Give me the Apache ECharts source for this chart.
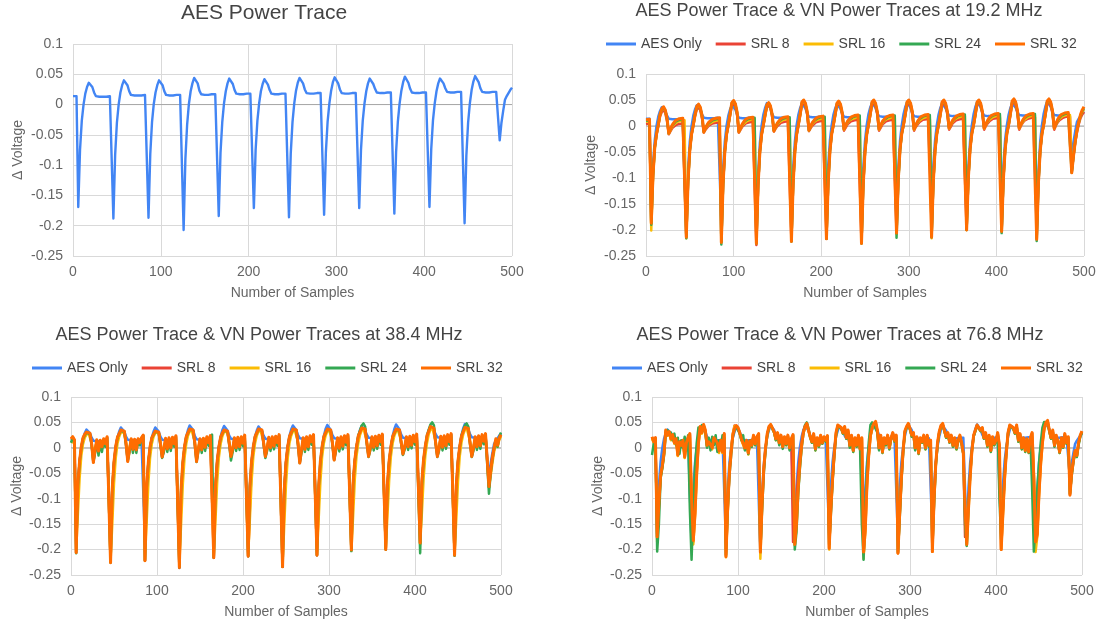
<!DOCTYPE html>
<html><head><meta charset="utf-8">
<script src="https://cdn.jsdelivr.net/npm/echarts@6/dist/echarts.min.js"></script>
<style>html,body{margin:0;padding:0;background:#fff}#c{width:1104px;height:626px}</style>
</head><body><div id="c"></div>
<script>
// Values are in mV, one value every SAMPLE_STEP samples (samples 0,2,4,...,500)
const SAMPLE_STEP = 2;
const seriesNames = ['AES Only', 'SRL 8', 'SRL 16', 'SRL 24', 'SRL 32'];
const seriesColors = ['#4285F4', '#EA4335', '#FBBC04', '#34A853', '#FF6D01'];

const aesOnly = [14,11,14,
-169,-75,-27,0,18,29,36,34,29,20,14,12,13,11,13,12,13,12,14,14,
-188,-83,-30,0,20,32,40,37,32,22,16,14,15,13,15,14,15,14,16,16,
-187,-82,-29,1,20,32,40,38,32,22,16,14,15,14,15,14,16,15,16,17,
-207,-90,-33,1,22,35,44,41,35,23,17,15,16,15,16,15,17,16,17,17,
-184,-80,-29,2,22,35,43,40,34,24,18,16,17,16,17,16,18,17,18,18,
-171,-75,-27,2,22,34,42,39,33,24,18,16,17,16,17,17,18,17,18,18,
-186,-81,-29,2,23,36,44,41,35,25,19,17,18,17,18,17,19,18,19,19,
-182,-79,-28,2,23,37,45,42,35,25,19,17,18,17,18,18,19,18,19,19,
-171,-75,-27,2,22,35,43,41,34,26,20,18,19,18,19,18,20,19,20,20,
-180,-78,-28,2,23,37,46,43,36,26,20,18,19,18,19,19,20,19,20,21,
-169,-74,-26,2,22,35,43,41,35,27,21,19,20,19,20,19,21,20,21,21,
-196,-85,-30,2,24,38,47,44,37,27,21,19,20,19,20,20,21,20,21,20,
-59,-30,-10,8,14,19,24,28];

// ---- 19.2 MHz ----
const srl8_19 = [4,5,5,
-187,-94,-41,-17,0,18,27,31,25,9,-16,-10,-4,-1,2,4,4,5,5,6,
-213,-107,-47,-17,0,19,32,36,30,14,-13,-7,-3,1,3,5,5,6,6,7,
-222,-111,-49,-17,1,20,39,43,37,21,-13,-7,-1,2,5,7,7,8,8,9,
-229,-115,-50,-17,1,19,36,40,34,18,-11,-5,0,3,6,8,8,9,9,10,
-220,-110,-48,-17,1,20,40,44,38,22,-10,-4,1,4,7,9,9,10,10,11,
-216,-108,-48,-16,1,20,39,43,37,21,-9,-3,3,6,9,11,11,12,12,13,
-225,-113,-50,-17,1,20,40,44,38,22,-9,-3,3,6,9,11,11,12,12,13,
-205,-103,-45,-15,1,20,40,44,38,22,-9,-2,3,7,10,12,12,13,13,14,
-213,-107,-47,-16,1,20,40,44,38,22,-7,-1,5,8,11,13,13,14,14,15,
-199,-100,-44,-15,1,20,41,45,39,23,-7,0,5,9,12,14,14,15,15,16,
-201,-101,-44,-15,1,21,42,46,40,24,-7,0,6,10,13,14,15,16,16,17,
-216,-108,-48,-16,1,21,42,46,40,24,-7,1,7,11,14,16,17,18,18,18,
-88,-58,-32,-12,3,15,22,27];
const srl16_19 = [8,8,9,
-201,-100,-44,-16,1,21,31,35,29,13,-15,-8,-1,3,6,8,9,10,10,11,
-216,-108,-48,-16,1,21,36,40,34,18,-12,-5,0,4,7,8,9,10,10,11,
-223,-112,-49,-16,2,22,43,47,41,25,-12,-5,1,5,8,10,11,12,12,13,
-226,-113,-50,-16,2,21,39,43,37,21,-10,-3,3,7,10,11,12,13,13,14,
-222,-111,-49,-16,2,22,44,48,42,26,-9,-2,4,8,11,12,13,14,14,15,
-217,-109,-48,-15,2,22,42,46,40,24,-7,0,6,10,13,14,15,16,16,17,
-226,-113,-50,-16,2,22,44,48,42,26,-7,0,6,10,13,14,15,16,16,17,
-207,-104,-46,-15,2,22,44,48,42,26,-7,0,6,10,13,15,16,17,17,18,
-216,-108,-48,-15,2,22,44,48,42,26,-5,2,8,12,15,16,17,18,18,19,
-200,-100,-44,-14,2,22,44,48,42,26,-5,2,8,12,15,17,18,19,19,20,
-203,-102,-45,-14,2,23,46,50,44,28,-5,2,8,12,15,17,18,19,19,20,
-206,-103,-45,-15,2,23,46,50,44,28,-5,3,9,14,17,19,20,21,21,21,
-88,-57,-30,-9,6,19,27,32];
const srl24_19 = [10,10,11,
-190,-95,-42,-16,2,22,32,36,30,14,-14,-6,1,5,9,11,12,13,13,14,
-216,-108,-48,-16,2,22,37,41,35,19,-11,-4,2,6,9,11,12,13,13,14,
-228,-114,-50,-16,2,23,44,48,42,26,-11,-3,3,8,11,13,14,15,15,16,
-226,-113,-50,-16,2,22,40,44,38,22,-9,-2,5,9,12,14,15,16,16,17,
-222,-111,-49,-16,3,23,45,49,43,27,-8,0,6,10,13,15,16,17,17,18,
-217,-109,-48,-15,3,23,43,47,41,25,-6,2,8,12,15,17,18,19,19,20,
-226,-113,-50,-16,3,23,45,49,43,27,-6,2,8,12,15,17,18,19,19,20,
-215,-108,-47,-15,3,23,45,49,43,27,-6,2,8,13,16,18,19,20,20,21,
-214,-107,-47,-15,3,23,45,49,43,27,-4,4,10,14,17,19,20,21,21,22,
-200,-100,-44,-14,3,23,45,49,43,27,-4,4,10,15,18,20,21,22,22,23,
-206,-103,-45,-14,3,24,47,51,45,29,-4,4,10,15,18,20,21,22,22,23,
-221,-111,-49,-15,3,24,47,51,45,29,-4,4,11,16,20,22,23,24,24,24,
-90,-58,-30,-8,7,20,29,34];
const srl32_19 = [12,12,13,
-187,-94,-41,-16,2,22,33,37,31,15,-14,-5,2,7,11,13,14,15,15,16,
-214,-107,-47,-16,2,22,38,42,36,20,-11,-3,3,8,11,13,14,15,15,16,
-224,-112,-49,-16,2,23,45,49,43,27,-11,-3,4,9,13,15,16,17,17,18,
-226,-113,-50,-16,2,22,41,45,39,23,-9,-1,6,10,14,16,17,18,18,19,
-222,-111,-49,-16,3,23,46,50,44,28,-8,0,7,11,15,17,18,19,19,20,
-217,-109,-48,-15,3,23,44,48,42,26,-6,2,9,13,17,19,20,21,21,22,
-226,-113,-50,-16,3,23,46,50,44,28,-6,2,9,13,17,19,20,21,21,22,
-206,-103,-45,-14,3,23,46,50,44,28,-6,2,9,14,18,20,21,22,22,23,
-214,-107,-47,-15,3,23,46,50,44,28,-4,4,11,15,19,21,22,23,23,24,
-200,-100,-44,-14,3,23,46,50,44,28,-4,4,11,16,20,22,23,24,24,25,
-203,-102,-45,-14,3,24,48,52,46,30,-4,4,11,16,20,22,23,24,24,25,
-218,-109,-48,-15,3,24,48,52,46,30,-4,5,13,18,22,24,25,26,26,25,
-90,-58,-30,-8,8,22,31,37];

// ---- 38.4 MHz ----
const srl8_38 = [16,20,15,
-206,-74,-26,2,19,26,30,33,28,7,-28,-5,15,-7,14,1,17,7,21,19,
-224,-80,-28,2,20,27,34,37,32,7,-26,-4,17,-4,16,-5,17,9,19,24,
-222,-79,-27,2,19,26,32,35,30,7,-18,-3,18,-3,19,-1,20,7,23,25,
-236,-90,-32,1,21,29,36,39,34,8,-26,-4,17,-5,18,0,21,9,23,26,
-216,-77,-27,2,20,28,34,37,32,8,-17,-3,19,-1,20,1,21,8,24,26,
-213,-120,-40,0,21,29,36,39,34,8,-17,-2,20,-1,21,2,22,9,25,27,
-234,-83,-29,2,21,29,36,39,34,7,-29,-5,19,-4,21,1,23,11,25,27,
-211,-110,-35,2,21,29,36,39,34,8,-23,-3,19,-2,21,2,23,10,25,27,
-201,-71,-25,2,22,30,38,41,36,9,-16,-1,21,0,22,3,24,11,26,28,
-200,-71,-25,2,21,29,36,39,34,9,-12,1,21,1,22,4,24,11,26,28,
-188,-66,-23,3,23,32,41,44,38,9,-16,-1,22,0,23,3,25,11,27,29,
-211,-75,-26,2,22,31,39,42,37,9,-16,-1,21,1,23,3,25,12,27,29,
-78,-42,-16,1,14,4,19,25];
const srl16_38 = [12,15,10,
-200,-130,-60,-15,8,20,26,30,27,10,-15,0,12,-2,12,2,15,8,18,18,
-222,-150,-70,-20,8,22,30,33,30,12,-15,0,14,0,14,0,15,8,18,22,
-220,-145,-68,-18,8,22,29,32,30,12,-10,0,15,0,16,2,18,6,20,22,
-230,-150,-72,-20,8,24,32,36,33,12,-15,-2,14,-1,16,3,19,8,20,23,
-214,-142,-66,-18,8,23,31,34,31,12,-10,0,16,2,18,4,19,7,21,23,
-212,-140,-65,-17,9,24,32,36,33,12,-10,1,17,2,18,5,20,8,22,24,
-232,-150,-72,-20,9,24,32,36,33,11,-16,-2,16,0,18,4,20,9,22,24,
-210,-140,-66,-17,9,24,32,36,33,12,-14,0,16,1,18,5,20,8,22,24,
-202,-135,-62,-16,9,25,34,38,35,13,-10,2,18,3,19,6,21,9,23,25,
-200,-132,-62,-16,9,24,32,36,33,13,-8,3,18,4,19,7,21,9,23,25,
-190,-128,-60,-15,10,27,36,40,37,13,-10,2,19,3,20,6,22,9,24,26,
-211,-140,-66,-17,10,26,35,39,36,13,-10,2,18,4,20,6,22,10,24,26,
-78,-55,-30,-8,10,2,16,22];
const srl24_38 = [10,20,12,
-207,-75,-28,0,18,25,30,33,27,5,-28,-10,12,-15,10,-8,15,2,20,22,
-226,-82,-30,0,20,27,34,37,31,5,-25,-8,15,-10,14,-10,15,5,18,24,
-222,-80,-28,0,19,26,32,35,30,5,-20,-8,15,-8,16,-6,18,2,22,25,
-235,-85,-30,0,21,29,36,39,34,6,-28,-8,15,-10,15,-6,18,4,22,26,
-216,-78,-28,0,20,28,34,37,32,6,-25,-8,16,-6,17,-4,19,3,23,26,
-213,-77,-27,0,21,29,36,39,34,6,-20,-6,17,-6,18,-3,20,4,24,27,
-234,-85,-30,0,21,29,36,39,34,5,-30,-9,16,-8,18,-4,20,6,24,27,
-211,-77,-27,0,21,29,36,39,34,6,-24,-7,16,-7,18,-3,20,5,24,27,
-203,-74,-26,0,24,34,44,48,42,8,-18,-5,18,-5,19,-2,22,6,25,28,
-200,-73,-26,0,21,29,36,39,34,7,-14,-3,18,-4,19,-1,22,6,25,28,
-207,-75,-26,1,25,36,46,50,44,8,-18,-5,19,-5,20,-2,23,6,26,29,
-212,-77,-27,0,24,34,44,48,42,8,-18,-5,18,-4,20,-2,23,7,26,29,
-90,-50,-22,-2,15,2,22,30];
const srl32_38 = [18,22,16,
-206,-72,-25,3,20,27,31,34,29,8,-29,-4,16,-6,15,2,18,8,22,20,
-226,-79,-27,3,21,28,35,38,33,8,-27,-3,18,-3,17,-4,18,10,20,25,
-222,-78,-26,3,20,27,33,36,31,8,-18,-2,19,-2,20,0,21,8,24,26,
-235,-82,-28,3,22,30,37,40,35,9,-27,-3,18,-4,19,1,22,10,24,27,
-216,-76,-26,3,21,29,35,38,33,9,-17,-2,20,0,21,2,22,9,25,27,
-213,-75,-25,3,22,30,37,40,35,9,-17,-1,21,0,22,3,23,10,26,28,
-234,-82,-28,3,22,30,37,40,35,8,-30,-4,20,-3,22,2,24,12,26,28,
-211,-74,-25,3,22,30,37,40,35,9,-24,-2,20,-1,22,3,24,11,26,28,
-201,-70,-24,3,23,31,39,42,37,10,-17,0,22,1,23,4,25,12,27,29,
-200,-70,-24,3,22,30,37,40,35,10,-12,2,22,2,23,5,25,12,27,29,
-187,-65,-22,4,24,33,42,45,39,10,-17,0,23,1,24,4,26,12,28,30,
-211,-74,-25,3,23,32,40,43,38,10,-17,0,22,2,24,4,26,13,28,30,
-76,-45,-20,0,18,5,20,26];

// ---- 76.8 MHz ----
const srl8_76 = [20,15,20,
-178,-112,-56,-36,-10,34,25,31,17,25,9,17,-14,11,4,14,-17,10,20,27,
-105,-185,-128,-48,8,41,29,45,34,4,11,14,-1,19,14,9,-7,14,-8,27,
-212,-128,-48,-2,28,44,42,39,29,17,19,-1,14,-11,13,4,24,7,21,27,
-205,-110,-42,-1,27,41,45,43,31,17,29,9,24,1,21,7,24,-1,15,-185,
-150,-100,-50,-15,10,32,44,48,34,21,11,27,-3,19,4,24,9,21,14,23,
-198,-122,-60,-11,29,44,47,39,29,41,19,34,4,24,-6,19,4,24,-3,19,
-210,-160,-72,-16,24,39,47,51,34,-1,24,-9,19,7,24,-1,19,29,14,24,
-207,-132,-62,-6,32,41,47,37,24,29,-1,21,-11,19,11,24,-1,24,4,14,
-204,-102,-32,9,31,43,47,34,21,29,11,24,4,19,-1,14,24,9,-11,-175,
-130,-110,-52,-6,24,34,44,47,34,39,19,29,4,24,-6,21,7,14,29,4,
-200,-128,-58,-9,29,44,47,39,29,44,14,27,-1,19,-6,17,-9,19,29,-55,
-185,-168,-88,-28,12,37,49,53,34,19,34,4,24,11,-9,19,1,27,9,21,
-92,-50,-25,-6,-15,9,24,32];
const srl16_76 = [18,10,18,
-185,-115,-58,-38,-12,32,24,30,15,24,8,15,-16,10,2,12,-20,8,18,25,
-100,-190,-135,-55,5,40,28,44,32,2,10,12,-3,18,12,8,-10,12,-10,25,
-215,-132,-45,-3,27,43,40,38,28,15,18,-3,12,-13,12,2,22,5,20,25,
-218,-115,-45,-3,25,40,44,42,30,15,27,7,22,0,20,5,22,-3,15,24,
-192,-155,-85,-35,2,28,40,46,33,20,10,25,-5,18,2,22,8,20,12,22,
-200,-125,-62,-12,27,43,46,38,28,40,18,32,2,22,-8,18,2,22,-5,18,
-218,-165,-75,-18,22,38,46,50,32,-3,22,-10,18,5,22,-3,18,28,12,22,
-207,-135,-65,-8,30,40,46,36,22,28,-3,20,-12,18,10,22,-3,22,2,12,
-204,-105,-35,8,30,42,46,33,20,28,10,22,2,18,-3,12,22,8,-12,-110,
-192,-125,-58,-8,22,33,43,46,33,38,18,28,2,22,-8,20,5,12,28,2,
-200,-135,-65,-12,27,43,46,38,28,43,12,25,-3,18,-8,15,-10,18,28,-50,
-205,-175,-95,-35,8,35,48,52,33,18,32,3,22,10,-10,18,0,25,8,20,
-90,-52,-27,-8,-17,8,23,31];
const srl24_76 = [-14,8,18,
-204,-150,-60,-40,-15,30,35,25,30,15,28,5,20,-12,15,0,22,-5,25,-120,
-220,-120,-40,10,40,30,45,42,30,0,20,-5,22,5,25,-8,15,0,25,20,
-210,-120,-55,-15,22,36,42,40,28,15,25,-5,12,-12,15,2,22,5,20,25,
-203,-120,-50,-5,25,40,45,42,30,15,28,5,22,-2,20,5,22,-5,15,25,
-200,-165,-90,-40,0,28,45,50,38,20,10,25,-5,18,2,22,8,20,12,20,
-190,-130,-65,-15,25,42,45,38,28,40,18,30,0,22,-8,18,2,22,-5,-150,
-220,-110,-40,10,45,50,45,48,30,-5,22,-10,18,5,22,-3,18,28,12,20,
-205,-140,-65,-10,30,40,46,36,22,28,-5,20,-12,18,10,22,-3,22,2,12,
-195,-110,-35,5,30,42,46,33,20,28,10,22,2,18,-3,12,22,8,-12,-150,
-193,-115,-50,-5,22,33,44,46,33,38,18,28,2,22,-8,20,5,12,28,-100,
-180,-120,-55,-8,28,43,46,38,28,42,12,25,-3,18,-8,15,-10,18,-80,-204,
-150,-80,-30,10,40,51,48,50,32,18,32,2,22,10,-10,18,0,25,8,20,
-90,-55,-28,-8,-18,5,22,30];
const srl32_76 = [22,12,20,
-175,-110,-55,-35,-10,35,25,32,18,26,10,18,-14,12,5,15,-18,10,20,28,
-100,-182,-130,-50,10,42,30,46,35,5,12,15,0,20,15,10,-6,15,-8,28,
-214,-115,-50,-10,25,38,44,40,30,18,20,0,15,-10,14,5,25,8,22,28,
-205,-110,-40,0,28,42,46,44,32,18,30,10,25,2,22,8,25,0,18,26,
-190,-150,-80,-30,5,30,42,48,35,22,12,28,-2,20,5,25,10,22,15,24,
-198,-120,-60,-10,30,45,48,40,30,42,20,35,5,25,-5,20,5,25,-2,20,
-205,-160,-70,-15,25,40,48,52,35,0,25,-8,20,8,25,0,20,30,15,25,
-207,-130,-60,-5,33,42,48,38,25,30,0,22,-10,20,12,25,0,25,5,15,
-204,-100,-30,10,32,44,48,35,22,30,12,25,5,20,0,15,25,10,-10,-120,
-190,-120,-55,-5,25,35,45,48,35,40,20,30,5,25,-5,22,8,15,30,5,
-200,-130,-60,-10,30,45,48,40,30,45,15,28,0,20,-5,18,-8,20,30,-60,
-185,-170,-90,-30,10,38,50,54,35,20,35,5,25,12,-8,20,2,28,10,22,
-93,-50,-25,-5,-15,10,25,33];

const xAxisTicks = {min: 0, max: 500, interval: 100};
const yAxisTicks = {min: -0.25, max: 0.1, interval: 0.05};

const FONT = "'Liberation Sans', Arial, Helvetica, sans-serif";
const panels = [
  {title: 'AES Power Trace', tSize: 21, tx: 264, ty: 3,
   grid: {left: 73, top: 44, width: 439, height: 212}, nameGapY: 48,
   legend: null, sets: [aesOnly], width: 2.4},
  {title: 'AES Power Trace & VN Power Traces at 19.2 MHz', tSize: 18, tx: 839, ty: 2,
   grid: {left: 646, top: 74, width: 438, height: 182}, nameGapY: 48,
   legend: {left: 606, top: 37}, sets: [aesOnly, srl8_19, srl16_19, srl24_19, srl32_19], width: 2.5},
  {title: 'AES Power Trace & VN Power Traces at 38.4 MHz', tSize: 18, tx: 259, ty: 326,
   grid: {left: 71, top: 397, width: 430, height: 178}, nameGapY: 47,
   legend: {left: 32, top: 361}, sets: [aesOnly, srl8_38, srl16_38, srl24_38, srl32_38], width: 2.5},
  {title: 'AES Power Trace & VN Power Traces at 76.8 MHz', tSize: 18, tx: 840, ty: 326,
   grid: {left: 652, top: 397, width: 430, height: 178}, nameGapY: 47,
   legend: {left: 612, top: 361}, sets: [aesOnly, srl8_76, srl16_76, srl24_76, srl32_76], width: 2.5}
];

function toXY(arr) { return arr.map((v, i) => [i * SAMPLE_STEP, v / 1000]); }

const option = {
  animation: false,
  backgroundColor: '#ffffff',
  textStyle: {fontFamily: FONT},
  title: [], grid: [], xAxis: [], yAxis: [], legend: [], series: []
};

panels.forEach((p, pi) => {
  option.title.push({text: p.title, left: p.tx, top: p.ty, textAlign: 'center', padding: 0,
    textStyle: {fontSize: p.tSize, fontWeight: 'normal', color: '#444444', fontFamily: FONT}});
  option.grid.push(Object.assign({containLabel: false, outerBoundsMode: 'none'}, p.grid));
  option.xAxis.push({type: 'value', gridIndex: pi, min: xAxisTicks.min, max: xAxisTicks.max, interval: xAxisTicks.interval,
    name: 'Number of Samples', nameLocation: 'middle', nameGap: 30,
    nameTextStyle: {fontSize: 14, color: '#666666', fontFamily: FONT},
    axisLine: {show: false}, axisTick: {show: false},
    axisLabel: {fontSize: 14, color: '#666666', margin: 9, fontFamily: FONT},
    splitLine: {show: true, lineStyle: {color: '#d9d9d9', width: 1}}});
  option.yAxis.push({type: 'value', gridIndex: pi, min: yAxisTicks.min, max: yAxisTicks.max, interval: yAxisTicks.interval,
    name: 'Δ Voltage', nameLocation: 'middle', nameGap: p.nameGapY, nameRotate: 90,
    nameTextStyle: {fontSize: 14, color: '#666666', fontFamily: FONT},
    axisLine: {show: false}, axisTick: {show: false},
    axisLabel: {fontSize: 14, color: '#666666', margin: 10, fontFamily: FONT},
    splitLine: {show: true, lineStyle: {color: '#d9d9d9', width: 1}}});
  if (p.legend) {
    option.legend.push({data: seriesNames, left: p.legend.left, top: p.legend.top, orient: 'horizontal',
      icon: 'rect', itemWidth: 30, itemHeight: 3, itemGap: 14, padding: 0,
      textStyle: {fontSize: 14, color: '#444444', fontFamily: FONT}});
  }
  // zero reference line (behind the traces)
  option.series.push({type: 'line', xAxisIndex: pi, yAxisIndex: pi, data: [[0, 0], [500, 0]],
    symbol: 'none', silent: true, z: 1, lineStyle: {color: '#a6a6a6', width: 1}, tooltip: {show: false}});
  p.sets.forEach((arr, si) => {
    const ci = p.sets.length === 1 ? 0 : si;
    option.series.push({type: 'line', name: seriesNames[ci], xAxisIndex: pi, yAxisIndex: pi,
      data: toXY(arr), symbol: 'none', showSymbol: false, z: 2 + si,
      lineStyle: {color: seriesColors[ci], width: ci === 4 ? 3 : p.width, join: 'round'},
      itemStyle: {color: seriesColors[ci]}});
  });
});

const chart = echarts.init(document.getElementById('c'), null, {renderer: 'canvas'});
chart.setOption(option);
</script>
</body></html>
